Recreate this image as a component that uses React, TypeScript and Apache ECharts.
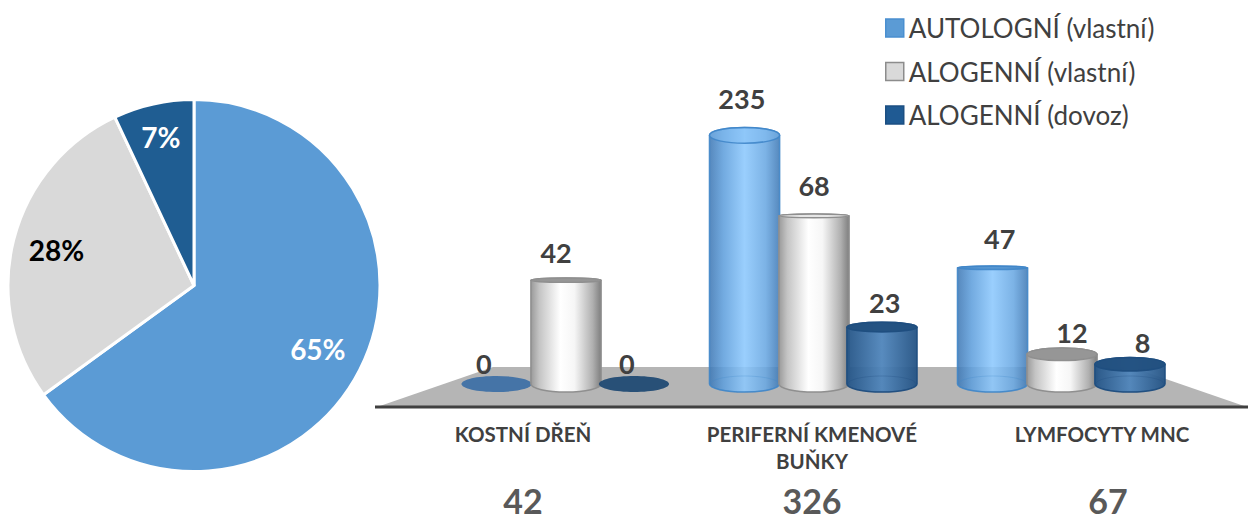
import React, { useEffect, useRef } from "react";
import * as echarts from "echarts";

const pieNames = ["AUTOLOGNÍ (vlastní)", "ALOGENNÍ (vlastní)", "ALOGENNÍ (dovoz)"];
const pieValues = [65, 28, 7];
const categories = ["KOSTNÍ DŘEŇ", "PERIFERNÍ KMENOVÉ\nBUŇKY", "LYMFOCYTY MNC"];
const totals = [42, 326, 67];
const autologni = [0, 235, 47];
const alogenni = [42, 68, 12];
const dovoz = [0, 23, 8];

// The reference draws the tallest cylinder with a shortened body: values above
// BREAK_AT rise at about a fifth of the rate.
const BREAK_AT = 68;
const compress = (v: number) => (v <= BREAK_AT ? v : BREAK_AT + (v - BREAK_AT) * 0.195);

const grad = (stops: [number, string][]) =>
  new echarts.graphic.LinearGradient(
    0, 0, 1, 0,
    stops.map(([offset, color]) => ({ offset, color }))
  );

type Look = {
  offset: number;
  opacity: number;
  body: [number, string][];
  stroke: string;
  topAbove: string;
  topBelow: string;
  zero: string;
};

const EYE_Y = 240;
const BASE_RY = 8;

const cylinder = (look: Look) => (params: any, api: any) => {
  const cat = api.value(0);
  const v = api.value(1);
  const p0 = api.coord([cat, 0]);
  const band = api.size([1, 0])[0];
  const w = band * 0.283;
  const cx = p0[0] + look.offset * band;
  const base = p0[1];
  const rx = w / 2;
  const children: any[] = [];
  let topEdge = base - BASE_RY;
  if (v === 0) {
    children.push({
      type: "ellipse",
      shape: { cx, cy: base, rx, ry: BASE_RY },
      style: { fill: look.zero, opacity: 0.95 },
    });
  } else {
    const top = api.coord([cat, compress(v)])[1];
    const slope = top < EYE_Y ? 0.075 : 0.055;
    const ry = Math.max(1.8, Math.min(8, Math.abs(top - EYE_Y) * slope));
    topEdge = top - ry;
    const d =
      `M${cx - rx} ${top} L${cx - rx} ${base} ` +
      `A${rx} ${BASE_RY} 0 0 0 ${cx + rx} ${base} L${cx + rx} ${top} ` +
      `A${rx} ${ry} 0 0 0 ${cx - rx} ${top} Z`;
    children.push({
      type: "path",
      shape: { pathData: d },
      style: { fill: grad(look.body), stroke: look.stroke, lineWidth: 1.5, opacity: look.opacity },
    });
    if (look.opacity < 1) {
      children.push({
        type: "ellipse",
        shape: { cx, cy: base, rx: rx - 1, ry: BASE_RY },
        style: { fill: "rgba(0,0,0,0)", stroke: look.stroke, lineWidth: 0.8, opacity: 0.35 },
      });
    }
    children.push({
      type: "ellipse",
      shape: { cx, cy: top, rx, ry },
      style: {
        fill: top < EYE_Y ? look.topAbove : look.topBelow,
        stroke: look.stroke,
        lineWidth: 1.5,
        opacity: look.opacity,
      },
    });
  }
  const h = base - topEdge;
  const gap = Math.min(29, 11 + h * 0.14);
  children.push({
    type: "text",
    style: {
      x: cx + (cx - 813) * 0.04,
      y: topEdge - gap,
      text: String(v),
      fill: "#404040",
      font: "bold 27px Lato",
      align: "center",
      verticalAlign: "middle",
    },
  });
  return { type: "group", children };
};

const looks: Look[] = [
  {
    offset: -0.28,
    opacity: 0.88,
    body: [[0, "#3f78b4"], [0.2, "#5f9fdc"], [0.5, "#8cc8fd"], [0.8, "#6aa8e2"], [1, "#3f79b5"]],
    stroke: "#3f85c8",
    topAbove: "rgba(130,190,245,0.55)",
    topBelow: "#4f8fcc",
    zero: "#3f71a6",
  },
  {
    offset: 0,
    opacity: 1,
    body: [[0, "#9a9a9a"], [0.12, "#c4c4c4"], [0.42, "#ffffff"], [0.62, "#f6f6f6"], [0.88, "#b0b0b0"], [1, "#7f7f7f"]],
    stroke: "#8f8f8f",
    topAbove: "#e6e6e6",
    topBelow: "#969696",
    zero: "#969696",
  },
  {
    offset: 0.274,
    opacity: 0.95,
    body: [[0, "#245486"], [0.5, "#4f85bb"], [1, "#235283"]],
    stroke: "#1f4e80",
    topAbove: "#2f6396",
    topBelow: "#22507f",
    zero: "#214b74",
  },
];

const seriesValues = [autologni, alogenni, dovoz];
const legendColors = ["#5b9bd5", "#d9d9d9", "#1f5a93"];
const legendBorders = ["#4a8fd0", "#8c8c8c", "#1c4f82"];
const pieColors = ["#5b9bd5", "#d9d9d9", "#1f5d92"];
const pieLabelColors = ["#ffffff", "#000000", "#ffffff"];
const pieLabelRadius = [139, 142, 152];
const labelCenters = [523, 812, 1102];
const totalCenters = [523, 812, 1108];

export default function App() {
  const ref = useRef<HTMLDivElement>(null);
  useEffect(() => {
    document.body.style.margin = "0";
    const chart = echarts.init(ref.current!, null, { renderer: "svg" });
    const pieCx = 194;
    const pieCy = 285.5;
    const sum = pieValues.reduce((a, b) => a + b, 0);
    chart.setOption({
      animation: false,
      backgroundColor: "#ffffff",
      textStyle: { fontFamily: "Lato" },
      legend: {
        orient: "vertical",
        left: 880,
        top: 10,
        itemWidth: 18,
        itemHeight: 18,
        itemGap: 17.5,
        icon: "rect",
        selectedMode: false,
        data: pieNames.map((name, i) => ({
          name,
          itemStyle: { color: legendColors[i], borderColor: legendBorders[i], borderWidth: 1.5 },
        })),
        textStyle: { fontFamily: "Lato", fontSize: 26, color: "#404040", height: 26, lineHeight: 26 },
      },
      grid: { left: 442, width: 744, top: 112, height: 272 },
      xAxis: { type: "category", data: categories, show: false },
      yAxis: { type: "value", min: 0, max: 110, show: false },
      graphic: [
        {
          type: "polygon",
          z: 0,
          shape: { points: [[377, 407], [493, 367], [1131, 367], [1247, 407]] },
          style: { fill: "#b5b5b5" },
        },
        {
          type: "line",
          z: 1,
          shape: { x1: 375, y1: 407, x2: 1248, y2: 407 },
          style: { stroke: "#404040", lineWidth: 3 },
        },
        ...categories.map((text, i) => ({
          type: "text",
          x: labelCenters[i],
          y: 420,
          style: {
            text,
            fill: "#404040",
            font: "bold 20.5px Lato",
            lineHeight: 27,
            align: "center",
            verticalAlign: "top",
          },
        })),
        ...totals.map((t, i) => ({
          type: "text",
          x: totalCenters[i],
          y: 500,
          style: {
            text: String(t),
            fill: "#595959",
            font: "bold 34px Lato",
            align: "center",
            verticalAlign: "middle",
          },
        })),
      ],
      series: [
        {
          type: "pie",
          center: [pieCx, pieCy],
          radius: 186,
          startAngle: 90,
          clockwise: true,
          itemStyle: { borderColor: "#ffffff", borderWidth: 3 },
          label: { show: true, position: "inside", fontFamily: "Lato", fontWeight: "bold", fontSize: 28, formatter: "{c}%" },
          labelLine: { show: false },
          labelLayout: (p: any) => {
            const before = pieValues.slice(0, p.dataIndex).reduce((a, b) => a + b, 0);
            const mid = ((before + pieValues[p.dataIndex] / 2) / sum) * Math.PI * 2;
            const r = pieLabelRadius[p.dataIndex];
            return {
              x: pieCx + Math.sin(mid) * r,
              y: pieCy - Math.cos(mid) * r,
              align: "center",
              verticalAlign: "middle",
            };
          },
          data: pieValues.map((value, i) => ({
            value,
            name: "podíl " + pieNames[i],
            itemStyle: { color: pieColors[i] },
            label: { color: pieLabelColors[i] },
          })),
        },
        ...pieNames.map((name, s) => ({
          type: "custom",
          name,
          clip: false,
          itemStyle: { color: legendColors[s] },
          renderItem: cylinder(looks[s]),
          encode: { x: 0, y: 1 },
          data: seriesValues[s].map((v, i) => [i, v]),
        })),
      ],
    });
    return () => chart.dispose();
  }, []);
  return <div ref={ref} style={{ width: 1248, height: 519 }} />;
}
